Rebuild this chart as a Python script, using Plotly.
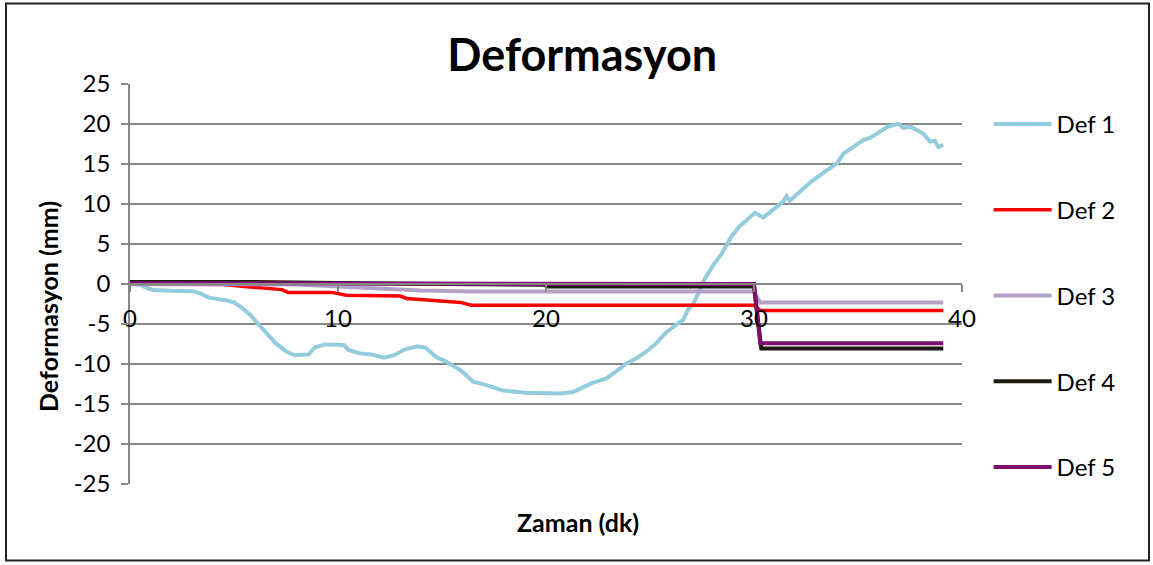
import plotly.graph_objects as go

# Zaman (dk) / Deformasyon (mm) measurements
t1 = [0, 0.5, 0.8, 1.1, 2.0, 3.0, 3.4, 3.8, 4.7, 5.0, 5.4, 5.8, 6.2, 6.6, 7.0, 7.5, 7.9,
      8.3, 8.6, 8.9, 9.4, 10.0, 10.3, 10.5, 11.1, 11.6, 12.2, 12.7, 13.2, 13.8, 14.2, 14.7,
      15.2, 15.9, 16.5, 17.1, 17.9, 19.0, 19.9, 20.7, 21.3, 21.8, 22.2, 22.9, 23.4, 23.9,
      24.4, 24.8, 25.3, 25.8, 26.2, 26.6, 26.8, 27.1, 27.4, 27.6, 28.0, 28.45, 28.9, 29.3,
      29.65, 30.05, 30.45, 30.9, 31.4, 31.57, 31.73, 32.4, 32.85, 33.5, 34.0, 34.3, 34.7,
      35.25, 35.6, 36.06, 36.46, 36.94, 37.2, 37.5, 38.14, 38.46, 38.7, 38.86, 39.1]
def1 = [0, -0.1, -0.5, -0.75, -0.85, -0.9, -1.2, -1.7, -2.1, -2.3, -3.0, -3.9, -5.1, -6.2,
        -7.4, -8.4, -8.9, -8.85, -8.8, -7.9, -7.55, -7.6, -7.65, -8.25, -8.7, -8.8, -9.2,
        -8.9, -8.2, -7.8, -7.95, -9.1, -9.7, -10.8, -12.2, -12.6, -13.3, -13.6, -13.7, -13.7,
        -13.5, -12.9, -12.4, -11.8, -10.9, -9.9, -9.2, -8.5, -7.4, -6.0, -5.2, -4.5, -3.3,
        -2.4, -0.75, 0.5, 2.2, 3.8, 5.9, 7.2, 8.0, 8.9, 8.3, 9.25, 10.3, 11.0, 10.4, 12.0,
        13.0, 14.2, 15.1, 16.3, 17.0, 18.0, 18.3, 19.0, 19.7, 20.0, 19.5, 19.7, 18.8, 17.8,
        17.9, 17.1, 17.4]

t2 = [0, 4.5, 5.5, 6.6, 7.3, 7.6, 9.7, 10.4, 13.0, 13.3, 14.6, 15.9, 16.4, 30.0, 30.3, 39.1]
def2 = [0, -0.05, -0.3, -0.55, -0.7, -1.05, -1.05, -1.4, -1.5, -1.8, -2.1, -2.3, -2.65,
        -2.65, -3.3, -3.3]

t3 = [0, 8.0, 10.0, 12.0, 14.0, 16.5, 30.0, 30.3, 39.1]
def3 = [0, -0.05, -0.3, -0.6, -0.8, -0.95, -0.95, -2.3, -2.3]

t4 = [0, 6.0, 12.0, 15.0, 19.9, 20.1, 30.0, 30.35, 39.1]
def4 = [0.25, 0.25, 0.05, -0.05, -0.1, -0.3, -0.3, -8.05, -8.05]

t5 = [0, 10.0, 20.0, 30.0, 30.3, 39.1]
def5 = [0.1, 0.05, 0.0, 0.0, -7.4, -7.4]

series_names = ["Def 1", "Def 2", "Def 3", "Def 4", "Def 5"]
y_ticks = [25, 20, 15, 10, 5, 0, -5, -10, -15, -20, -25]
x_ticks = [0, 10, 20, 30, 40]

colors = ["#93CDDD", "#FF0000", "#B3A2C7", "#1D1B10", "#7F0F6E"]
widths = [4, 3.5, 4, 4, 4]
FONT = "Lato"
GRID = "#878787"

fig = go.Figure()
for name, xs, ys, c, w in zip(series_names, [t1, t2, t3, t4, t5],
                              [def1, def2, def3, def4, def5], colors, widths):
    fig.add_trace(go.Scatter(x=xs, y=ys, mode="lines", name=name, legendgroup=name,
                             line=dict(color=c, width=w)))

fig.update_layout(
    width=1153, height=565,
    margin=dict(l=130, r=191, t=84, b=81),
    paper_bgcolor="white", plot_bgcolor="white",
    font=dict(family=FONT, size=22, color="black"),
    title=dict(text="<b>Deformasyon</b>", x=0.505, xanchor="center", y=0.903,
               yanchor="middle", font=dict(family=FONT, size=45, color="black")),
    showlegend=True,
    legend=dict(x=1.032, xanchor="left", y=0.955, yanchor="top", tracegroupgap=51.5,
                font=dict(family=FONT, size=24), itemwidth=58,
                bgcolor="rgba(0,0,0,0)"),
    xaxis=dict(range=[0, 40], tickvals=x_ticks, ticktext=[str(v) for v in x_ticks],
               anchor="free", position=0.5, showline=True, linecolor=GRID, linewidth=1.5,
               ticks="outside", ticklen=7, tickcolor=GRID, tickwidth=1.5,
               showgrid=False, zeroline=False, ticklabelstandoff=6,
               tickfont=dict(family=FONT, size=24)),
    yaxis=dict(range=[-25, 25], tickvals=y_ticks, ticktext=[str(v) for v in y_ticks],
               showline=True, linecolor=GRID, linewidth=1.5, ticks="outside", ticklen=7,
               tickcolor=GRID, tickwidth=1.5, showgrid=True, gridcolor=GRID, gridwidth=1.5,
               zeroline=False, ticklabelstandoff=6, tickfont=dict(family=FONT, size=24)),
    annotations=[
        dict(text="<b>Deformasyon (mm)</b>", xref="paper", yref="paper",
             x=(48 - 130) / 832, y=(484 - 307) / 400, textangle=-90, showarrow=False,
             xanchor="center", yanchor="middle", font=dict(family=FONT, size=25)),
        dict(text="<b>Zaman (dk)</b>", xref="paper", yref="paper",
             x=(578 - 130) / 832, y=(484 - 522) / 400, showarrow=False,
             xanchor="center", yanchor="middle", font=dict(family=FONT, size=25)),
    ],
    shapes=[
        dict(type="rect", xref="paper", yref="paper",
             x0=(6 - 130) / 832, x1=(1149 - 130) / 832,
             y0=(484 - 560.5) / 400, y1=(484 - 3.5) / 400,
             line=dict(color="#222222", width=2), layer="below"),
    ],
)

fig.write_html("out.html")
